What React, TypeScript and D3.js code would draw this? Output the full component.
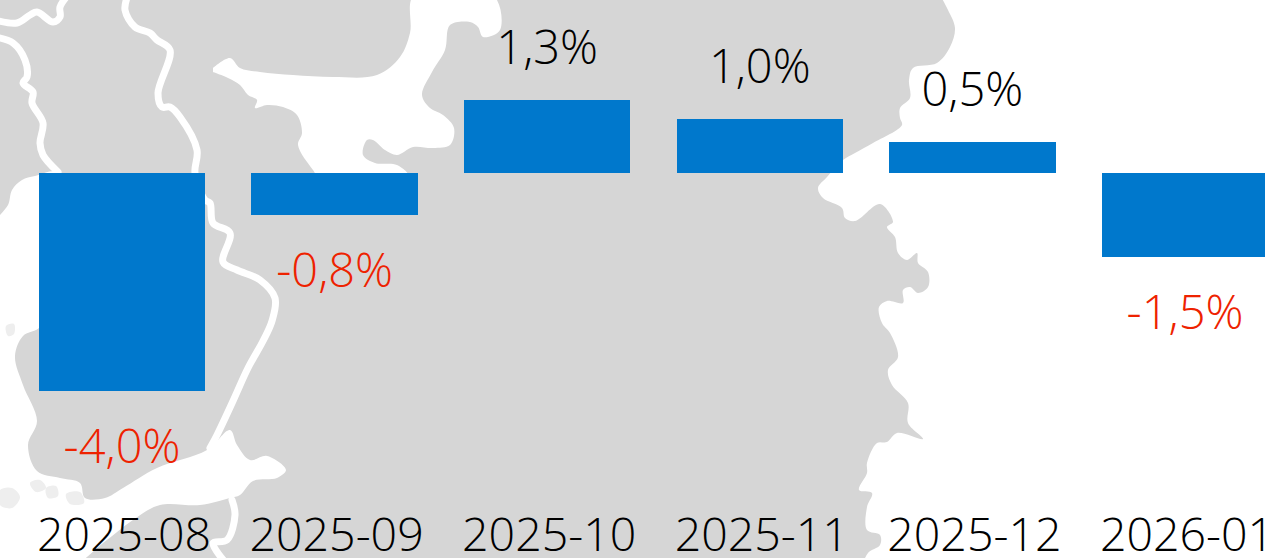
import React from "react";
import * as d3 from "d3";

const WIDTH = 1265;
const HEIGHT = 558;

const months = ["2025-08", "2025-09", "2025-10", "2025-11", "2025-12", "2026-01"];
const changes = [-4.0, -0.77, 1.34, 0.99, 0.57, -1.54];
const changeLabels = ["-4,0%", "-0,8%", "1,3%", "1,0%", "0,5%", "-1,5%"];

type Pt = [number, number];

// Background map, traced by eye: white water over a grey land fill
const eastSea: Pt[] = [[940,-5],[948,10],[955,28],[950,47],[937,63],[913,68],[909,80],[910,98],[900,108],[900,118],[902,125],[873,143],[855,153],[843,160],[827,177],[818,188],[823,198],[842,208],[845,218],[855,221],[880,204],[893,222],[887,227],[895,237],[898,253],[907,260],[917,253],[918,263],[928,272],[928,287],[918,293],[910,287],[903,290],[903,303],[887,301],[879,307],[882,323],[890,333],[898,357],[888,370],[892,385],[908,403],[908,423],[923,439],[897,433],[887,442],[877,443],[867,463],[867,473],[859,490],[872,493],[867,507],[867,530],[880,535],[880,545],[868,553],[865,565]];
const westSea: Pt[] = [[-5,220],[8,205],[12,190],[22,180],[35,176],[60,173],[60,300],[39,328],[23,336],[15,356],[23,385],[37,421],[28,445],[37,471],[60,478],[80,483],[85,498],[105,498],[123,488],[157,468],[207,450],[230,430],[237,445],[250,460],[267,456],[286,470],[277,478],[253,481],[240,495],[230,498],[200,505],[160,505],[133,520],[103,543],[73,565]];
const northInlet: Pt[] = [[213,68],[230,58],[240,68],[260,72],[293,75],[333,77],[377,75],[400,57],[410,33],[414,-5],[493,-5],[500,30],[483,37],[478,27],[470,22],[450,25],[445,50],[432,72],[422,95],[430,108],[443,115],[454,128],[450,145],[433,148],[413,147],[397,155],[385,150],[373,140],[367,140],[363,155],[375,163],[397,165],[410,178],[320,178],[313,170],[298,145],[302,133],[297,115],[283,107],[267,105],[255,108],[257,100],[248,95],[240,85],[228,78],[213,72]];
const borders: Pt[][] = [
  [[-5,20],[17,23],[30,15],[37,12],[53,22],[60,17],[60,7],[68,-5]],
  [[-5,37],[13,43],[25,60],[27,77],[23,83],[33,92],[32,103],[43,123],[40,143],[43,155],[58,172]],
  [[128,-5],[125,10],[135,27],[150,33],[157,40],[170,50],[158,93],[162,107],[170,107],[180,117],[197,150],[195,173],[205,200],[210,203],[213,223],[230,233],[223,262],[237,270],[260,280],[275,298],[272,321],[263,341],[248,368],[233,401],[217,435],[210,448]],
  [[232,500],[235,515],[227,540],[213,543],[225,562]],
];
const shoals: Pt[][] = [
  [[0,490],[12,488],[20,497],[12,508],[0,505]],
  [[66,494],[80,492],[84,503],[70,504]],
  [[30,483],[40,480],[46,488],[36,492]],
  [[6,326],[14,324],[14,334],[8,336]],
  [[46,488],[56,486],[58,496],[48,498]],
];

const smooth = d3.line<Pt>().curve(d3.curveCatmullRom.alpha(0.5));
const closedLoop = d3.line<Pt>().curve(d3.curveCatmullRomClosed.alpha(0.5));

const x = d3
  .scaleBand<string>()
  .domain(months)
  .range([15.7, 1291.3])
  .paddingInner(0.217)
  .paddingOuter(0.1085);

const y = d3.scaleLinear().domain([-4, 0]).range([391, 173]);

const FONT = "'Open Sans', 'Noto Sans', sans-serif";

export default function App() {
  const eastPoly = [...eastSea, [1270, 565] as Pt, [1270, -5] as Pt];
  const westPoly = [...westSea, [-5, 565] as Pt];
  return (
    <svg
      width={WIDTH}
      height={HEIGHT}
      viewBox={`0 0 ${WIDTH} ${HEIGHT}`}
      style={{ position: "fixed", left: 0, top: 0, display: "block", background: "#fff" }}
      fontFamily={FONT}
    >
      <rect width={WIDTH} height={HEIGHT} fill="#d6d6d6" />
      <path d={smooth(eastPoly) + "Z"} fill="#fff" />
      <path d={smooth(westPoly) + "Z"} fill="#fff" />
      <path d={smooth(northInlet) + "Z"} fill="#fff" />
      {borders.map((b, i) => (
        <path key={i} d={smooth(b) ?? ""} fill="none" stroke="#fff" strokeWidth={7} strokeLinejoin="round" strokeLinecap="round" />
      ))}
      {shoals.map((s, i) => (
        <path key={i} d={closedLoop(s) ?? ""} fill="#eeeeee" />
      ))}

      {months.map((m, i) => {
        const v = changes[i];
        const top = y(Math.max(v, 0));
        const bottom = y(Math.min(v, 0));
        const bx = x(m)!;
        const cx = bx + x.bandwidth() / 2;
        return (
          <g key={m}>
            <rect x={bx} y={top} width={x.bandwidth()} height={bottom - top} fill="#0078cc" shapeRendering="crispEdges" />
            <text
              x={cx}
              y={v < 0 ? bottom + 72 : top - 36}
              textAnchor="middle"
              fontSize={47}
              fontWeight={350}
              fill={v < 0 ? "#ee2200" : "#000"}
            >
              {changeLabels[i]}
            </text>
            <text x={cx + 2} y={551} textAnchor="middle" fontSize={46.5} fontWeight={350} fill="#000">
              {m}
            </text>
          </g>
        );
      })}
    </svg>
  );
}
